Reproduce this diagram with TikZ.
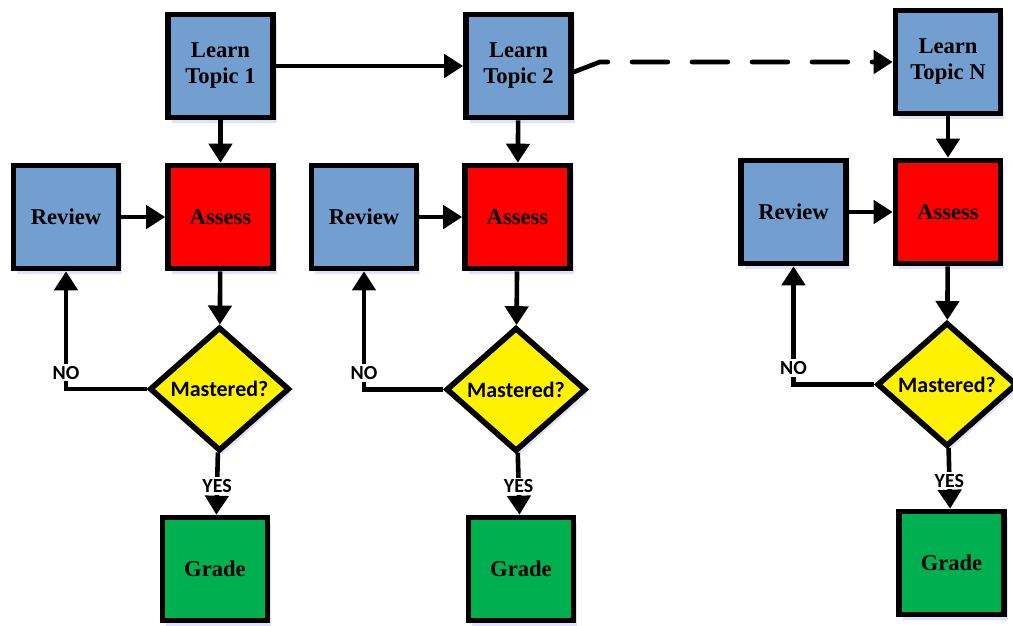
\documentclass[tikz,border=0pt]{standalone}
\usepackage{fontspec}
\setmainfont{Liberation Serif}
\newfontfamily\serifbox{Liberation Serif}
\newfontfamily\calibri{Carlito}
\usepackage{tikz}
\usetikzlibrary{positioning}
\usetikzlibrary{shapes.geometric, arrows.meta, shadows}
\definecolor{stepblue}{HTML}{729FCF}
\definecolor{gradegreen}{HTML}{00B050}
\tikzstyle{box} = [rectangle, draw, line width=2.8pt, minimum width=52.5pt, minimum height=51.5pt, inner sep=0pt, align=center, font=\serifbox\fontsize{11.3}{13}\selectfont\bfseries, drop shadow={fill=blue!12, opacity=1, shadow xshift=1.9pt, shadow yshift=-2.9pt}]
\tikzstyle{decide} = [diamond, draw, line width=2.8pt, fill=yellow, minimum width=70pt, minimum height=62pt, inner sep=0pt, font=\calibri\fontsize{11}{13}\selectfont\bfseries, drop shadow={fill=blue!12, opacity=1, shadow xshift=1.4pt, shadow yshift=-2.2pt}]
\tikzstyle{arrow} = [line width=2.3pt, -{Triangle[width=11.5pt,length=9.5pt]}]
\tikzstyle{answer} = [fill=white, inner sep=1pt, font=\calibri\fontsize{10}{12}\selectfont\bfseries]

\begin{document}
\begin{tikzpicture}[x=0.5pt, y=-0.5pt]
  \useasboundingbox (0,0) rectangle (1013,626);

  % Topic 1
  \node[box, fill=stepblue] (lt1) at (220.5,66) {Learn\\Topic 1};
  \node[box, fill=stepblue] (rev1) at (66,217) {Review};
  \node[box, fill=red] (as1) at (220.5,217) {Assess};
  \node[decide] (mas1) at (219.5,389) {Mastered?};
  \node[box, fill=gradegreen] (gr1) at (215,569) {Grade};

  % Topic 2
  \node[box, fill=stepblue] (lt2) at (518.5,66) {Learn\\Topic 2};
  \node[box, fill=stepblue] (rev2) at (364,217) {Review};
  \node[box, fill=red] (as2) at (517.5,217) {Assess};
  \node[decide] (mas2) at (516,389.5) {Mastered?};
  \node[box, fill=gradegreen] (gr2) at (521,569) {Grade};

  % Topic N
  \node[box, fill=stepblue] (ltN) at (948,62) {Learn\\Topic N};
  \node[box, fill=stepblue] (revN) at (793.5,212) {Review};
  \node[box, fill=red] (asN) at (948,212) {Assess};
  \node[decide] (masN) at (947,384.5) {Mastered?};
  \node[box, fill=gradegreen] (grN) at (951.5,563) {Grade};

  % Links between topics
  \draw[arrow] (lt1) -- (lt2);
  \draw[arrow, dash pattern=on 18pt off 12pt, line cap=round]
    ([yshift=-3pt]lt2.east) -- ([xshift=13pt]lt2.east |- ltN.west) -- (ltN.west);

  % Loops
  \foreach \t in {1,2,N} {
    \draw[arrow] (lt\t) -- (as\t);
    \draw[arrow] (rev\t) -- (as\t);
    \draw[arrow] (as\t) -- (mas\t);
    \draw[arrow] (mas\t.west) -| node[answer, pos=0.57] {NO} (rev\t);
    \draw[arrow] (mas\t) -- node[answer, pos=0.54] {YES} (gr\t);
  }
\end{tikzpicture}
\end{document}
